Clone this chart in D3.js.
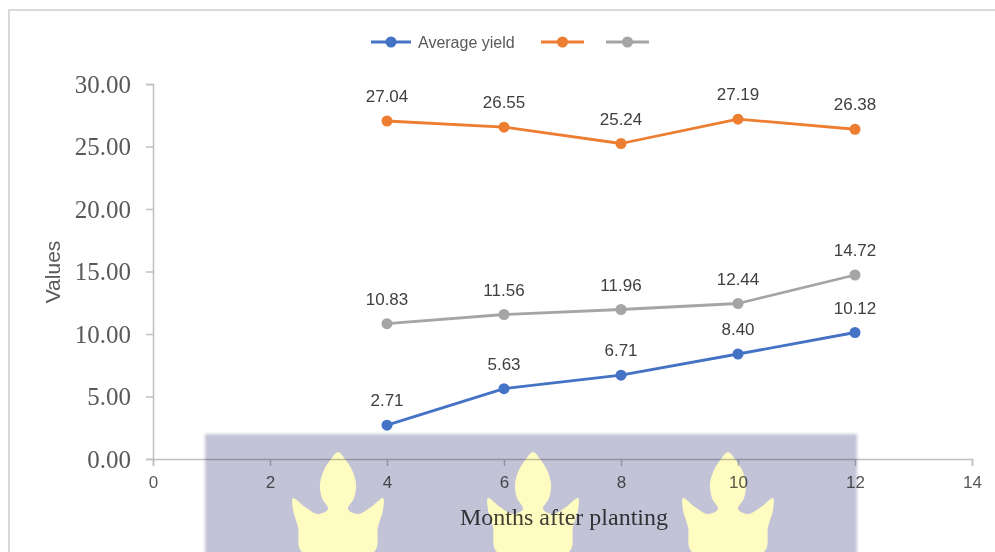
<!DOCTYPE html>
<html>
<head>
<meta charset="utf-8">
<script src="https://cdn.jsdelivr.net/npm/d3@7"></script>
<style>
  html, body { margin: 0; padding: 0; background: #fff; }
  svg { display: block; }
</style>
</head>
<body>
<svg id="chart" width="995" height="552"></svg>
<script>
// Months after planting and the three measured series
const months = [4, 6, 8, 10, 12];
const averageYield = [2.71, 5.63, 6.71, 8.40, 10.12];
const seriesOrange = [27.04, 26.55, 25.24, 27.19, 26.38];
const seriesGray = [10.83, 11.56, 11.96, 12.44, 14.72];
const seriesNames = ["Average yield", "", ""];
const seriesColors = ["#4472c4", "#ed7d31", "#a5a5a5"];
const xTicks = [0, 2, 4, 6, 8, 10, 12, 14];
const yTicks = [0, 5, 10, 15, 20, 25, 30];

const svg = d3.select("#chart");
const sans = "'Liberation Sans', Arial, sans-serif";
const serif = "'Liberation Serif', 'Times New Roman', serif";

// chart frame
svg.append("path")
  .attr("d", "M9,560 L9,10 L1000,10")
  .attr("fill", "none").attr("stroke", "#d9d9d9").attr("stroke-width", 2);

const x = d3.scaleLinear().domain([0, 14]).range([153, 972]);
const y = d3.scaleLinear().domain([0, 30]).range([459, 84]);

// y axis
const yAxis = svg.append("g").attr("transform", `translate(${x(0)},0)`)
  .call(d3.axisLeft(y).tickValues(yTicks).tickFormat(d3.format(".2f")).tickSize(7).tickPadding(15));
yAxis.select(".domain").attr("stroke", "#bfbfbf").attr("stroke-width", 1.5);
yAxis.selectAll(".tick line").attr("stroke", "#bfbfbf").attr("stroke-width", 1.5);
yAxis.selectAll(".tick text").attr("fill", "#595959")
  .style("font-family", serif).style("font-size", "25px");

// x axis
const xAxis = svg.append("g").attr("transform", `translate(0,${y(0)})`)
  .call(d3.axisBottom(x).tickValues(xTicks).tickFormat(d3.format("d")).tickSize(7).tickPadding(10));
xAxis.select(".domain").attr("stroke", "#bfbfbf").attr("stroke-width", 1.5);
xAxis.selectAll(".tick line").attr("stroke", "#bfbfbf").attr("stroke-width", 1.5);
xAxis.selectAll(".tick text").attr("fill", "#595959")
  .style("font-family", sans).style("font-size", "17px");

// axis titles
svg.append("text")
  .attr("transform", `translate(60,${272}) rotate(-90)`)
  .attr("text-anchor", "middle")
  .attr("fill", "#595959")
  .style("font-family", sans).style("font-size", "21px")
  .text("Values");

svg.append("text")
  .attr("x", 564).attr("y", 525)
  .attr("text-anchor", "middle")
  .attr("fill", "#404040")
  .style("font-family", serif).style("font-size", "24px")
  .text("Months after planting");

// series lines, markers and value labels
const allSeries = [averageYield, seriesOrange, seriesGray];
const line = d3.line().x((d, i) => x(months[i])).y(d => y(d));

allSeries.forEach((vals, s) => {
  const g = svg.append("g");
  g.append("path").datum(vals)
    .attr("d", line)
    .attr("fill", "none")
    .attr("stroke", seriesColors[s])
    .attr("stroke-width", 2.8)
    .attr("stroke-linejoin", "round");
  g.selectAll("circle").data(vals).join("circle")
    .attr("cx", (d, i) => x(months[i]))
    .attr("cy", d => y(d))
    .attr("r", 5.5)
    .attr("fill", seriesColors[s]);
  g.selectAll("text").data(vals).join("text")
    .attr("x", (d, i) => x(months[i]))
    .attr("y", d => y(d) - 19)
    .attr("text-anchor", "middle")
    .attr("fill", "#404040")
    .style("font-family", sans).style("font-size", "17px")
    .text(d => d3.format(".2f")(d));
});

// legend
const legendItems = [
  { x0: 371, x1: 411 },
  { x0: 541, x1: 584 },
  { x0: 606, x1: 649 }
];
const legend = svg.append("g");
legendItems.forEach((it, s) => {
  const ly = 42;
  legend.append("line")
    .attr("x1", it.x0).attr("x2", it.x1).attr("y1", ly).attr("y2", ly)
    .attr("stroke", seriesColors[s]).attr("stroke-width", 2.8);
  legend.append("circle")
    .attr("cx", (it.x0 + it.x1) / 2).attr("cy", ly).attr("r", 5.5)
    .attr("fill", seriesColors[s]);
  if (seriesNames[s]) {
    legend.append("text")
      .attr("x", it.x1 + 7).attr("y", ly + 6)
      .attr("fill", "#595959")
      .style("font-family", sans).style("font-size", "16px")
      .text(seriesNames[s]);
  }
});

// overlaid crest: tinted panel with three flame shapes
const defs = svg.append("defs");
defs.append("filter").attr("id", "soft")
  .attr("x", "-5%").attr("y", "-20%").attr("width", "110%").attr("height", "140%")
  .append("feGaussianBlur").attr("stdDeviation", 1.6);

const crest = svg.append("g").style("mix-blend-mode", "multiply");
crest.append("rect")
  .attr("x", 205).attr("y", 434).attr("width", 652).attr("height", 130)
  .attr("fill", "#c3c3d7").attr("filter", "url(#soft)");

const flame = [
  [0, 0], [7, 7], [14, 18], [18, 32], [16, 46], [10, 57],
  [20, 62], [33, 55], [45, 46], [45, 58], [40, 75], [36, 100],
  [-36, 100], [-40, 75], [-45, 58], [-45, 46], [-33, 55], [-20, 62],
  [-10, 57], [-16, 46], [-18, 32], [-14, 18], [-7, 7]
];
const flameLine = d3.line().curve(d3.curveCatmullRomClosed.alpha(0.5));
[338, 533, 728].forEach(cx => {
  crest.append("path")
    .attr("d", flameLine(flame.map(p => [cx + p[0], 452 + p[1]])))
    .attr("fill", "#fffcc2");
});
</script>
</body>
</html>
